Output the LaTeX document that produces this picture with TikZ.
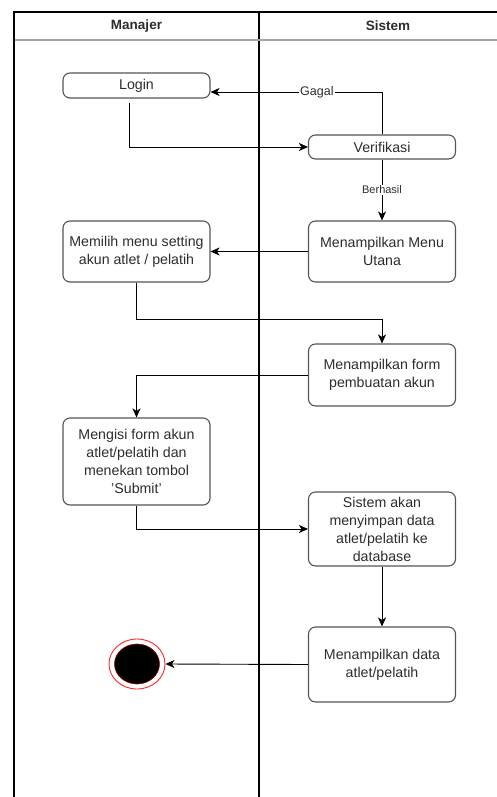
\documentclass[tikz,border=0pt]{standalone}
\usepackage{fontspec}
\setmainfont{Liberation Sans}
\usetikzlibrary{arrows.meta,shapes.geometric}
\definecolor{txt}{RGB}{45,45,45}
\definecolor{boxline}{RGB}{85,85,85}
\definecolor{sepgray}{RGB}{165,165,165}
\tikzset{
  act/.style={draw=boxline, line width=1.1pt, rounded corners=7pt, fill=white,
    inner sep=0pt, align=center, text=txt, font=\fontsize{14.2}{18}\selectfont,
    minimum width=147pt},
  arr/.style={-{Stealth[length=9pt,width=8pt,inset=2.5pt]}, line width=0.9pt, black},
  lab/.style={fill=white, inner sep=1pt, text=txt},
  lane/.style={line width=1.4pt, black},
  hdr/.style={font=\fontsize{13.5}{16}\selectfont\bfseries, text=txt}
}
\begin{document}
\begin{tikzpicture}[x=1pt,y=-1pt]
\useasboundingbox (0,0) rectangle (497,797);
\fill[white] (0,0) rectangle (497,797);
% swimlanes
\draw[lane] (14,797) -- (14,12) -- (497,12);
\draw[lane] (259,12) -- (259,797);
\draw[sepgray, line width=2pt] (15,40) -- (497,40);
\node[hdr] (h1) at (136.5,26) {Manajer};
\node[hdr] (h2) at (388,26) {Sistem};
% activities
\node[act, minimum height=25pt] (login) at (136.5,85.5) {Login};
\node[act, minimum height=24pt] (verif) at (382,147) {Verifikasi};
\node[act, minimum height=61pt] (memilih) at (136.5,251.5) {Memilih menu setting\\akun atlet / pelatih};
\node[act, minimum height=61pt] (menu) at (382,251.5) {Menampilkan Menu\\Utana};
\node[act, minimum height=62pt] (form) at (382,375) {Menampilkan form\\pembuatan akun};
\node[act, minimum height=87pt] (mengisi) at (136.5,461.5) {Mengisi form akun\\atlet/pelatih dan\\menekan tombol\\\symbol{39}Submit\symbol{39}};
\node[act, minimum height=74pt] (simpan) at (382,529) {Sistem akan\\menyimpan data\\atlet/pelatih ke\\database};
\node[act, minimum height=75pt] (data) at (382,664.5) {Menampilkan data\\atlet/pelatih};
% end node
\node[ellipse, draw=red!85, line width=0.9pt, fill=white, minimum width=56pt, minimum height=50pt, inner sep=0pt] (end) at (137,664) {};
\fill[black, draw=red!60!black, line width=0.6pt] (end.center) ellipse [x radius=22.5pt, y radius=20pt];
% connectors
\coordinate (gturn) at (382,92);
\coordinate (lstart) at (129,103);
\draw[arr] (verif.north) -- (gturn) -- ([yshift=-6.5pt]login.east)
  node[lab, pos=0.38, font=\fontsize{12.5}{14}\selectfont] (gagal) {Gagal};
\draw[arr] (lstart) |- (verif.west);
\draw[arr] (verif.south) -- (menu.north)
  node[lab, midway, font=\fontsize{11}{13}\selectfont] (berhasil) {Berhasil};
\draw[arr] (menu.west) -- (memilih.east);
\draw[arr] (memilih.south) -- ++(0,37) -| (form.north);
\draw[arr] (form.west) -| (mengisi.north);
\draw[arr] (mengisi.south) |- (simpan.west);
\draw[arr] (simpan.south) -- (data.north);
\draw[arr] (data.west) -- (end.east);
\end{tikzpicture}
\end{document}
